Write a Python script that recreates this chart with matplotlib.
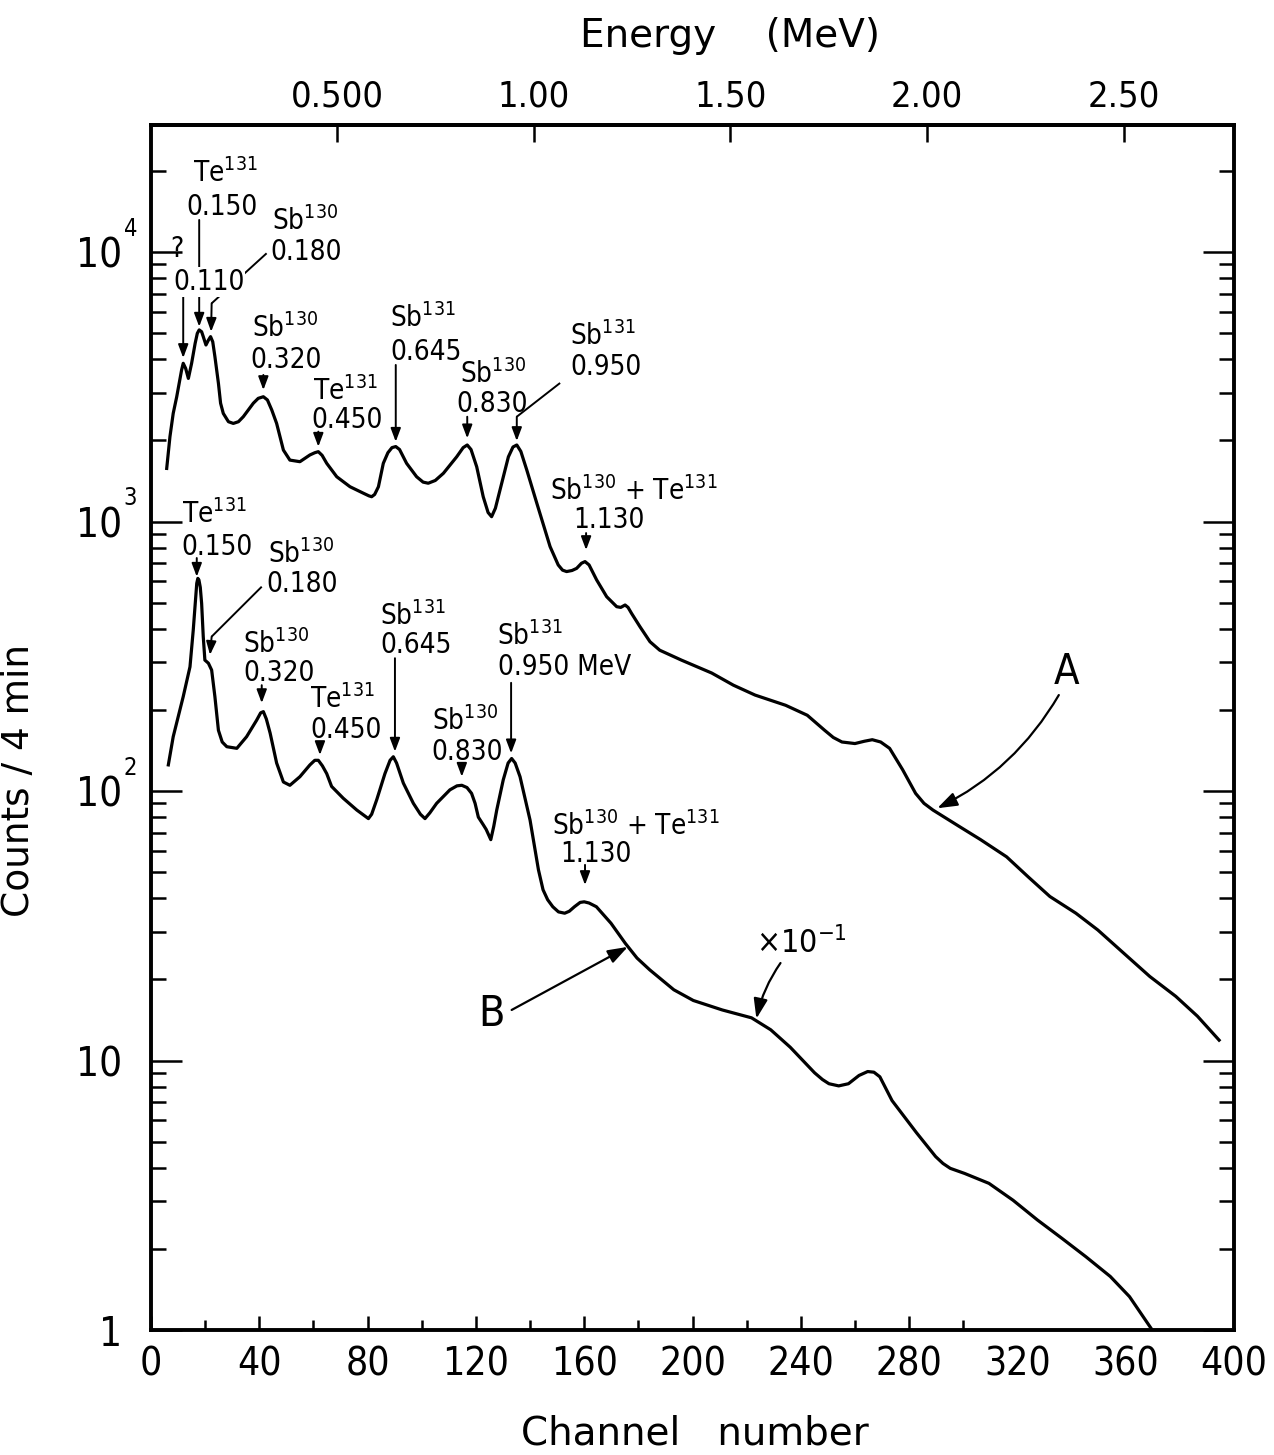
import matplotlib
matplotlib.use("Agg")
import matplotlib.pyplot as plt
import matplotlib.transforms as mtransforms
from matplotlib.ticker import FixedLocator, LogLocator, NullLocator, NullFormatter

# curve A (upper spectrum), counts per 4 min against channel number
chanA = [5.8, 7.0, 8.2, 9.5, 11.3, 11.9, 12.8, 13.8, 15.0, 16.3, 17.1, 17.8, 18.7, 19.3,
         20.3, 21.2, 22.0, 22.8, 23.6, 24.9, 25.7, 26.7, 28.6, 30.4, 32.3, 34.1, 37.8,
         39.6, 41.5, 43.0, 44.6, 46.4, 48.9, 51.3, 55.0, 58.7, 60.5, 61.8, 63.2, 64.9,
         68.6, 73.5, 78.4, 80.5, 81.5, 82.6, 84.0, 85.8, 87.5, 89.0, 90.4, 91.8, 94.4,
         98.1, 100.5, 102.4, 105.0, 108.0, 112.9, 115.3, 116.8, 118.2, 120.3, 122.7,
         124.5, 125.8, 127.2, 128.9, 132.0, 133.7, 135.1, 136.6, 138.8, 142.5, 147.4,
         150.4, 152.0, 153.5, 155.5, 157.2, 159.0, 160.3, 161.8, 164.6, 168.3, 172.0,
         173.5, 175.1, 176.2, 177.5, 180.6, 184.3, 187.9, 195.9, 207.1, 215.1, 223.1,
         234.4, 242.4, 248.8, 252.0, 255.2, 260.0, 263.5, 266.4, 269.5, 272.8, 277.6,
         282.4, 285.5, 288.8, 298.4, 306.4, 316.0, 324.0, 332.0, 341.6, 349.7, 359.3,
         368.9, 378.5, 386.5, 394.5]
countsA = [1574, 2065, 2518, 2904, 3648, 3864, 3700, 3396, 3864, 4581, 4990, 5140, 5060, 4853,
           4519, 4710, 4853, 4645, 4093, 3258, 2748, 2518, 2346, 2312, 2346, 2449, 2748,
           2864, 2904, 2825, 2594, 2312, 1841, 1690, 1667, 1766, 1800, 1816, 1760, 1644,
           1466, 1346, 1274, 1245, 1236, 1260, 1346, 1644, 1800, 1880, 1897, 1850, 1644,
           1466, 1400, 1387, 1420, 1510, 1738, 1880, 1923, 1850, 1596, 1236,
           1080, 1042, 1120, 1309, 1738, 1890, 1923, 1820, 1552, 1169, 807,
           690, 660, 652, 658, 670, 700, 710, 690, 607, 526, 483,
           480, 490, 480, 456, 407, 358, 333, 306, 274, 247, 227,
           208, 191, 168, 158, 152, 150, 153, 155, 152, 144, 120,
           98, 90, 85, 74, 66, 57, 48, 40.6, 35.2, 30.5, 25.0,
           20.5, 17.3, 14.6, 11.9]

# curve B (lower spectrum, plotted x 10^-1)
chanB = [6.4, 8.2, 11.9, 14.4, 15.6, 16.9, 17.3, 17.7, 18.2, 18.7, 19.3, 19.9, 21.2, 22.4,
         23.6, 24.9, 26.3, 28.0, 31.7, 35.3, 39.0, 40.5, 41.5, 42.6, 44.0, 46.4, 48.9,
         51.3, 55.0, 58.7, 60.5, 61.8, 63.3, 64.9, 66.7, 71.0, 76.0, 80.3, 81.5, 83.4,
         86.4, 88.3, 89.5, 90.7, 93.2, 96.9, 99.5, 101.2, 103.0, 105.5, 110.4, 113.0,
         114.8, 116.7, 118.4, 119.7, 120.9, 122.7, 123.8, 125.5, 126.6, 127.7, 130.1,
         131.9, 133.2, 134.5, 136.3, 140.0, 143.1, 144.8, 146.5, 148.4, 150.5, 152.8,
         154.5, 156.4, 158.5, 160.0, 161.8, 164.5, 169.9, 175.2, 179.5, 184.2, 193.1,
         200.3, 211.0, 221.8, 228.9, 236.1, 245.1, 248.0, 250.4, 254.0, 257.6, 261.5,
         264.7, 267.0, 269.2, 273.7, 282.7, 289.8, 292.5, 295.2, 300.5, 309.5, 318.4,
         327.4, 336.4, 345.3, 354.3, 361.4, 369.5]
countsB = [125, 159, 224, 289, 395, 590, 615, 607, 570, 497, 374, 306, 298, 281,
           224, 168, 152, 146, 144, 159, 183, 195, 197, 185, 164, 127, 108,
           105, 113, 125, 130, 130, 124, 116, 104, 94, 85, 79, 82, 93,
           116, 130, 134, 127, 107, 90, 82, 79, 83, 90, 101, 104.5,
           105, 103, 98, 90, 80, 75, 72, 66, 74, 85, 110,
           127, 132, 127, 113, 78, 51, 43, 39.5, 37.2, 35.6, 35.2,
           35.8, 37.2, 38.6, 38.8, 38.4, 37.2, 32.3, 27.2, 24.0, 21.7, 18.3,
           16.7, 15.4, 14.4, 13.0, 11.2, 9.0, 8.5, 8.2, 8.05, 8.2, 8.8,
           9.1, 9.05, 8.7, 7.1, 5.4, 4.4, 4.15, 3.98, 3.81, 3.50, 3.03,
           2.56, 2.19, 1.87, 1.58, 1.33, 1.01]

# energy calibration: channel = GAIN * E + OFFSET
GAIN = 145.2
OFFSET = -3.8
energy_ticks = [0.5, 1.0, 1.5, 2.0, 2.5]
energy_labels = ["0.500", "1.00", "1.50", "2.00", "2.50"]
chan_ticks = list(range(0, 401, 40))
chan_minor = list(range(20, 400, 40))
decades = [1, 10, 100, 1000, 10000]

# peak labels: (isotope, x, y, energy, x, y, arrow path)
peak_labels = [
    ("Te$^{131}$", 15.5, 18190, "0.150", 13.2, 13710, [(17.8, 13150), (17.8, 5285)]),
    ("Sb$^{130}$", 44.6, 12070, "0.180", 44.0, 9335, [(42.7, 9890), (22.4, 6450), (22.2, 5060)]),
    ("Sb$^{130}$", 37.2, 4850, "0.320", 36.6, 3702, [(41.5, 3498), (41.5, 3076)]),
    ("Te$^{131}$", 59.8, 2825, "0.450", 59.4, 2218, [(61.8, 2155), (61.8, 1895)]),
    ("Sb$^{131}$", 88.3, 5285, "0.645", 88.3, 3975, [(90.4, 3810), (90.4, 1977)]),
    ("Sb$^{130}$", 114.1, 3258, "0.830", 112.9, 2555, [(116.8, 2448), (116.8, 2036)]),
    ("Sb$^{131}$", 154.8, 4518, "0.950", 154.8, 3498, [(151.1, 3266), (135.1, 2448), (135.1, 1990)]),
    ("Sb$^{130}$ + Te$^{131}$", 147.4, 1202, "1.130", 155.9, 946, [(160.7, 906), (160.7, 784)]),
    ("Te$^{131}$", 11.3, 987, "0.150", 11.3, 751, [(16.9, 732), (16.9, 624)]),
    ("Sb$^{130}$", 43.2, 702, "0.180", 42.7, 549, [(40.9, 573), (22.4, 374), (21.8, 320)]),
    ("Sb$^{130}$", 34.0, 325, "0.320", 34.0, 255, [(40.9, 247), (40.9, 212)]),
    ("Te$^{131}$", 58.7, 203, "0.450", 58.7, 157, [(62.4, 152), (62.4, 136)]),
    ("Sb$^{131}$", 84.6, 413, "0.645", 84.6, 325, [(90.1, 311), (90.1, 140)]),
    ("Sb$^{130}$", 103.7, 168, "0.830", 103.7, 130, [(114.8, 125), (114.8, 113)]),
    ("Sb$^{131}$", 127.7, 348, "0.950 MeV", 128.2, 269, [(133.0, 252), (133.0, 138)]),
    ("Sb$^{130}$ + Te$^{131}$", 148.1, 68.7, "1.130", 151.1, 54.5, [(160.3, 53.2), (160.3, 44.8)]),
]

# condensed DejaVu for numbers and tags, normal width for the axis titles
plt.rcParams["font.family"] = ["DejaVu Sans"]
plt.rcParams["font.stretch"] = "condensed"


def arrow(ax, path, lw=1.4):
    xs = [p[0] for p in path]
    ys = [p[1] for p in path]
    if len(path) > 2:
        ax.plot(xs[:-1], ys[:-1], color="black", lw=lw, solid_capstyle="butt")
    ax.annotate("", xy=path[-1], xytext=path[-2],
                arrowprops=dict(arrowstyle="-|>,head_length=0.8,head_width=0.3",
                                color="black", lw=lw, shrinkA=0, shrinkB=0,
                                mutation_scale=10))


fig = plt.figure(figsize=(12.74, 14.55), dpi=100)
ax = fig.add_axes([151 / 1274, 125 / 1455, 1083 / 1274, 1205 / 1455])

ax.plot(chanA, countsA, color="black", lw=2.3, solid_joinstyle="round")
ax.plot(chanB, countsB, color="black", lw=2.3, solid_joinstyle="round")

ax.set_yscale("log")
ax.set_xlim(0, 400)
ax.set_ylim(1, 29600)

for s in ax.spines.values():
    s.set_linewidth(2.8)

# channel axis
ax.set_xticks(chan_ticks)
ax.set_xticklabels([str(c) for c in chan_ticks])
ax.set_xticks(chan_minor, minor=True)
ax.tick_params(axis="x", which="major", direction="in", length=10, width=1.8,
               labelsize=28, pad=11, top=False)
ax.tick_params(axis="x", which="minor", direction="in", length=7, width=1.8, top=False)
for t, c in zip(ax.xaxis.get_major_ticks(), chan_ticks):
    if c > 300:
        t.tick1line.set_visible(False)
for t, c in zip(ax.xaxis.get_minor_ticks(), chan_minor):
    if c > 300:
        t.tick1line.set_visible(False)

# counts axis
ax.yaxis.set_major_locator(FixedLocator(decades))
ax.yaxis.set_minor_locator(LogLocator(base=10, subs=range(2, 10)))
ax.yaxis.set_minor_formatter(NullFormatter())
ax.set_yticklabels(["1", "10", "10", "10", "10"])
ax.tick_params(axis="y", which="major", direction="in", length=22, width=1.8,
               labelsize=29, pad=21, right=True)
ax.tick_params(axis="y", which="minor", direction="in", length=11, width=1.8, right=True)
ybl = mtransforms.blended_transform_factory(ax.transAxes, ax.transData)
for d in decades[2:]:
    ax.text(-0.019, d * 1.22, str(decades.index(d)), transform=ybl, fontsize=17,
            ha="center", va="center")

# energy axis on top
sec = ax.secondary_xaxis("top", functions=(lambda c: (c - OFFSET) / GAIN,
                                           lambda e: GAIN * e + OFFSET))
sec.set_xticks(energy_ticks)
sec.set_xticklabels(energy_labels)
sec.xaxis.set_minor_locator(NullLocator())
sec.tick_params(axis="x", direction="in", length=12, width=1.8, labelsize=26, pad=8)
sec.spines["top"].set_linewidth(2.8)

ax.text(0.535, 1.0647, "Energy    (MeV)", transform=ax.transAxes, ha="center",
        va="baseline", fontsize=28, fontstretch="normal")
ax.set_xlabel("Channel   number", fontsize=28, fontstretch="normal")
ax.xaxis.set_label_coords(0.502, -0.07)
ax.set_ylabel("Counts / 4 min", fontsize=27, fontstretch="normal")
ax.yaxis.set_label_coords(-0.105, 0.456)

# peak labels and arrows
for iso, xi, yi, en, xe, ye, path in peak_labels:
    ax.text(xi, yi, iso, fontsize=20, ha="left", va="baseline")
    ax.text(xe, ye, en, fontsize=20, ha="left", va="baseline")
    arrow(ax, path)

ax.text(7.0, 9610, "?", fontsize=20, ha="left", va="baseline")
ax.text(8.1, 7230, "0.110", fontsize=20, ha="left", va="baseline", zorder=5,
        bbox=dict(facecolor="white", edgecolor="none", pad=0.5))
arrow(ax, [(11.9, 7045), (11.9, 4045)])

# curve tags
ax.text(338.0, 276, "A", fontsize=30, ha="center", va="center")
ax.annotate("", xy=(290.4, 86.3), xytext=(335.3, 227),
            arrowprops=dict(arrowstyle="-|>,head_length=1.0,head_width=0.35", color="black",
                            lw=1.6, shrinkA=0, shrinkB=0, mutation_scale=12,
                            connectionstyle="arc3,rad=-0.15"))
ax.text(125.6, 14.9, "B", fontsize=31, ha="center", va="center")
ax.annotate("", xy=(176.1, 26.4), xytext=(133.2, 15.4),
            arrowprops=dict(arrowstyle="-|>,head_length=1.0,head_width=0.35", color="black",
                            lw=1.6, shrinkA=0, shrinkB=0, mutation_scale=12))
ax.text(223.4, 25.1, "×10$^{-1}$", fontsize=23, ha="left", va="baseline")
ax.annotate("", xy=(223.6, 14.3), xytext=(232.5, 23.0),
            arrowprops=dict(arrowstyle="-|>,head_length=1.0,head_width=0.35", color="black",
                            lw=1.6, shrinkA=0, shrinkB=0, mutation_scale=12,
                            connectionstyle="arc3,rad=0.1"))

fig.savefig("out.png", dpi=100)
